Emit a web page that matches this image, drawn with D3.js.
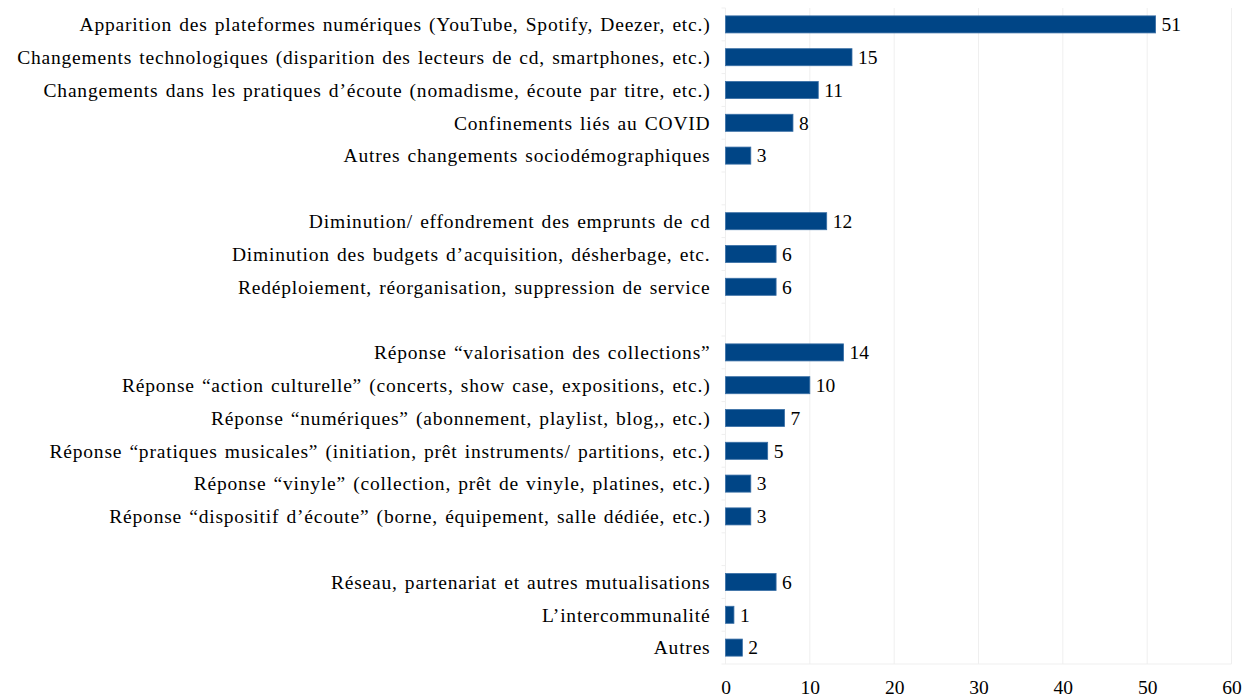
<!DOCTYPE html>
<html>
<head>
<meta charset="utf-8">
<script src="https://cdn.jsdelivr.net/npm/d3@7"></script>
<style>
  body { margin: 0; background: #fff; }
  text { font-family: "Liberation Serif", "Times New Roman", serif; fill: #000; }
</style>
</head>
<body>
<div id="chart"></div>
<script>
// data ("" = empty separator row)
var categories = [
  "Apparition des plateformes numériques (YouTube, Spotify, Deezer, etc.)",
  "Changements technologiques (disparition des lecteurs de cd, smartphones, etc.)",
  "Changements dans les pratiques d’écoute (nomadisme, écoute par titre, etc.)",
  "Confinements liés au COVID",
  "Autres changements sociodémographiques",
  "",
  "Diminution/ effondrement des emprunts de cd",
  "Diminution des budgets d’acquisition, désherbage, etc.",
  "Redéploiement, réorganisation, suppression de service",
  "",
  "Réponse “valorisation des collections”",
  "Réponse “action culturelle” (concerts, show case, expositions, etc.)",
  "Réponse “numériques” (abonnement, playlist, blog,, etc.) ",
  "Réponse “pratiques musicales” (initiation, prêt instruments/ partitions, etc.)",
  "Réponse “vinyle” (collection, prêt de vinyle, platines, etc.)",
  "Réponse “dispositif d’écoute” (borne, équipement, salle dédiée, etc.)",
  "",
  "Réseau, partenariat et autres mutualisations",
  "L’intercommunalité",
  "Autres "
];
var values = [51, 15, 11, 8, 3, null, 12, 6, 6, null, 14, 10, 7, 5, 3, 3, null, 6, 1, 2];
var xTicks = [0, 10, 20, 30, 40, 50, 60];

var svgWidth = 1247;
var svgHeight = 698;
var margin = { top: 8, right: 15.5, bottom: 34, left: 725.5 };
var width = svgWidth - margin.left - margin.right;
var height = svgHeight - margin.top - margin.bottom;

var rows = categories.map(function(c, i) {
  return { idx: i, label: c, value: values[i] };
});

var svg = d3.select("#chart")
  .append("svg")
  .attr("width", svgWidth)
  .attr("height", svgHeight);

var chartGroup = svg.append("g")
  .attr("transform", `translate(${margin.left}, ${margin.top})`);

var xScale = d3.scaleLinear()
  .domain([0, 60])
  .range([0, width]);

var yScale = d3.scaleBand()
  .domain(d3.range(categories.length))
  .range([0, height])
  .paddingInner(0.48)
  .paddingOuter(0.24);

// faint gridlines
chartGroup.append("g")
  .selectAll("line")
  .data(xTicks)
  .enter()
  .append("line")
  .attr("x1", d => xScale(d))
  .attr("x2", d => xScale(d))
  .attr("y1", 0)
  .attr("y2", height)
  .attr("stroke", "#efefef")
  .attr("stroke-width", 1);

chartGroup.append("line")
  .attr("x1", -4)
  .attr("x2", width)
  .attr("y1", height)
  .attr("y2", height)
  .attr("stroke", "#efefef");

// faint category ticks at band boundaries
var step = height / categories.length;
chartGroup.append("g")
  .selectAll("line")
  .data(d3.range(categories.length))
  .enter()
  .append("line")
  .attr("x1", -4)
  .attr("x2", 0)
  .attr("y1", d => d * step)
  .attr("y2", d => d * step)
  .attr("stroke", "#efefef");

// x axis
var xAxis = d3.axisBottom(xScale)
  .tickValues(xTicks)
  .tickSize(0)
  .tickPadding(16);

var xAxisG = chartGroup.append("g")
  .attr("transform", `translate(0, ${height})`)
  .call(xAxis);
xAxisG.select(".domain").remove();
xAxisG.selectAll("text")
  .attr("font-family", "Liberation Serif, serif")
  .attr("font-size", "19.5px")
  .attr("fill", "#000");

var bars = rows.filter(d => d.value !== null);

// bars
chartGroup.selectAll("rect.bar")
  .data(bars)
  .enter()
  .append("rect")
  .attr("class", "bar")
  .attr("x", 0)
  .attr("y", d => yScale(d.idx))
  .attr("width", d => xScale(d.value))
  .attr("height", yScale.bandwidth())
  .attr("fill", "#004586")
  .attr("stroke", "#3a6fa6")
  .attr("stroke-width", 0.8);

// value labels
chartGroup.selectAll("text.value")
  .data(bars)
  .enter()
  .append("text")
  .attr("class", "value")
  .attr("x", d => xScale(d.value) + 6)
  .attr("y", d => yScale(d.idx) + yScale.bandwidth() / 2)
  .attr("dy", "0.35em")
  .attr("font-size", "19.5px")
  .text(d => d.value);

// category labels
chartGroup.selectAll("text.cat")
  .data(rows.filter(d => d.label !== ""))
  .enter()
  .append("text")
  .attr("class", "cat")
  .attr("x", -15)
  .attr("y", d => yScale(d.idx) + yScale.bandwidth() / 2)
  .attr("dy", "0.35em")
  .attr("text-anchor", "end")
  .attr("font-size", "19.5px")
  .attr("letter-spacing", "0.8px")
  .attr("word-spacing", "1.5px")
  .text(d => d.label);
</script>
</body>
</html>
